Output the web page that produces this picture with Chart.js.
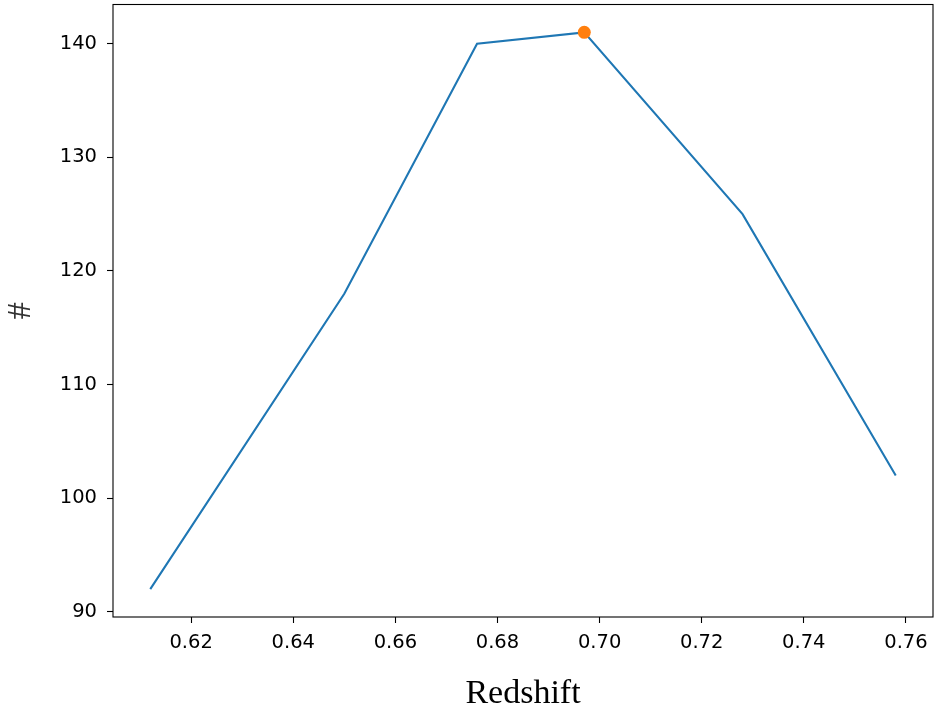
<!DOCTYPE html>
<html>
<head>
<meta charset="utf-8">
<script src="https://cdn.jsdelivr.net/npm/chart.js@4/dist/chart.umd.min.js"></script>
<style>
  html, body { margin: 0; padding: 0; background: #ffffff; }
  canvas { display: block; }
</style>
</head>
<body>
<canvas id="chart" width="934" height="711"></canvas>
<script>
// Number of objects per redshift bin
const redshift = [0.612, 0.650, 0.676, 0.697, 0.728, 0.758];
const counts = [92, 118, 140, 141, 125, 102];

// Highlighted peak bin
const peakRedshift = [0.697];
const peakCount = [141];

// Axis tick values
const xTicks = [0.62, 0.64, 0.66, 0.68, 0.70, 0.72, 0.74, 0.76];
const yTicks = [90, 100, 110, 120, 130, 140];

// Axis limits with a 5% margin around the data
function padded(values, frac) {
  const lo = Math.min(...values), hi = Math.max(...values);
  const m = (hi - lo) * frac;
  return [lo - m, hi + m];
}
const [xMin, xMax] = padded(redshift, 0.05);
const [yMin, yMax] = padded(counts, 0.05);

const tickFont = { family: "'DejaVu Sans', sans-serif", size: 19.5 };
const xTitleFont = { family: "'Liberation Serif', 'Times New Roman', serif", size: 34, lineHeight: 1.0 };
const yTitleFont = { family: "'Liberation Serif', 'Times New Roman', serif", size: 34, lineHeight: 1.2 };

// Closed frame around the plotting area
const framePlugin = {
  id: 'frame',
  afterDraw(chart) {
    const { ctx, chartArea: a } = chart;
    ctx.save();
    ctx.strokeStyle = '#000000';
    ctx.lineWidth = 1.1;
    ctx.strokeRect(a.left, a.top, a.right - a.left, a.bottom - a.top);
    ctx.restore();
  }
};

function noEdgePadding(scale) {
  scale.paddingTop = 0;
  scale.paddingBottom = 0;
  scale.paddingLeft = 0;
  scale.paddingRight = 0;
}

new Chart(document.getElementById('chart'), {
  type: 'scatter',
  data: {
    datasets: [
      {
        label: 'peak',
        data: peakRedshift.map((x, i) => ({ x, y: peakCount[i] })),
        pointRadius: 6.5,
        pointHoverRadius: 6.5,
        pointBackgroundColor: '#ff7f0e',
        pointBorderColor: '#ff7f0e',
        pointBorderWidth: 0,
        showLine: false
      },
      {
        label: 'counts',
        data: redshift.map((x, i) => ({ x, y: counts[i] })),
        showLine: true,
        borderColor: '#1f77b4',
        borderWidth: 2.1,
        pointRadius: 0,
        pointHoverRadius: 0,
        tension: 0,
        fill: false
      }
    ]
  },
  options: {
    responsive: false,
    animation: false,
    events: [],
    layout: { autoPadding: false, padding: { top: 4.5, right: 1, left: 0, bottom: 0 } },
    plugins: {
      legend: { display: false },
      tooltip: { enabled: false }
    },
    scales: {
      x: {
        type: 'linear',
        min: xMin,
        max: xMax,
        afterBuildTicks(scale) { scale.ticks = xTicks.map(v => ({ value: v })); },
        afterFit(scale) { scale.height = 94; noEdgePadding(scale); },
        grid: { display: true, drawOnChartArea: false, drawTicks: true, tickLength: 6, tickColor: '#000000', tickWidth: 1.1 },
        border: { display: false },
        ticks: {
          font: tickFont,
          color: '#000000',
          padding: 8,
          maxRotation: 0,
          callback: v => Number(v).toFixed(2)
        },
        title: {
          display: true,
          text: 'Redshift',
          font: xTitleFont,
          color: '#000000',
          padding: { top: 0, bottom: 0 }
        }
      },
      y: {
        type: 'linear',
        min: yMin,
        max: yMax,
        afterBuildTicks(scale) { scale.ticks = yTicks.map(v => ({ value: v })); },
        afterFit(scale) { scale.width = 113; noEdgePadding(scale); },
        grid: { display: true, drawOnChartArea: false, drawTicks: true, tickLength: 6, tickColor: '#000000', tickWidth: 1.1 },
        border: { display: false },
        ticks: {
          font: tickFont,
          color: '#000000',
          padding: 10,
          callback: v => String(v)
        },
        title: {
          display: true,
          text: '#',
          font: yTitleFont,
          color: '#333333',
          padding: { top: 1, bottom: 0 }
        }
      }
    }
  },
  plugins: [framePlugin]
});
</script>
</body>
</html>
